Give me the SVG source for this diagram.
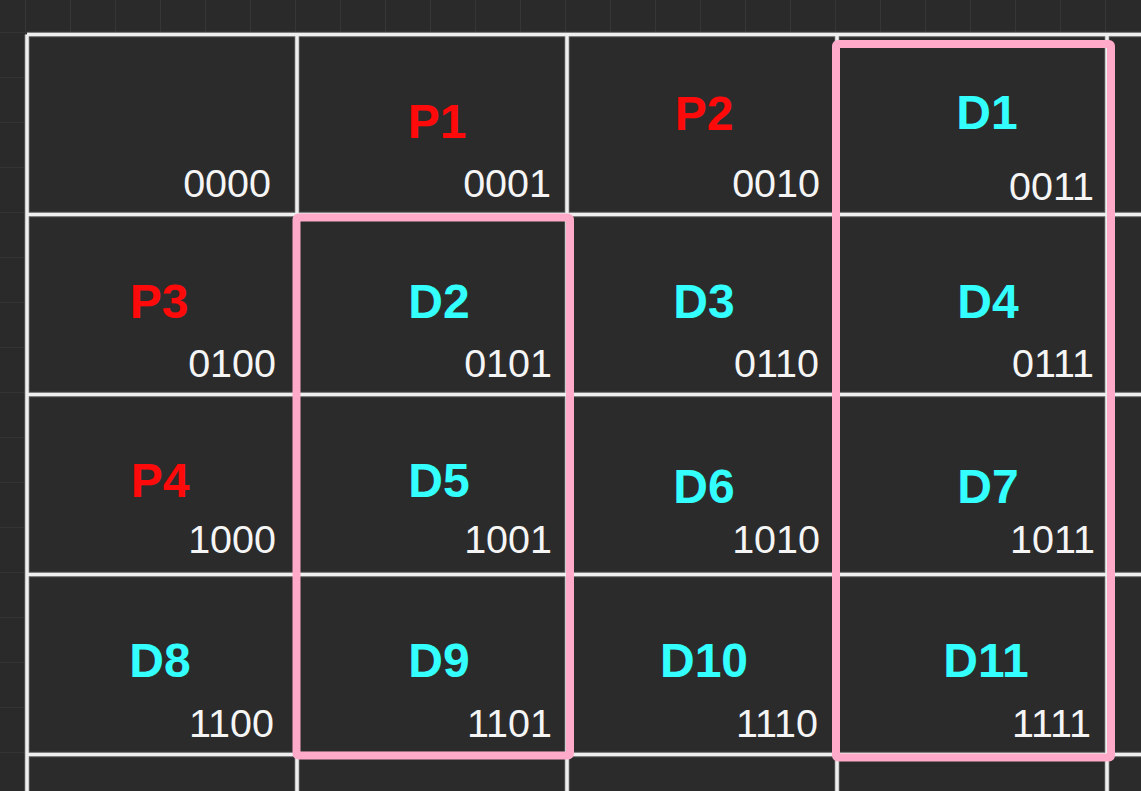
<svg xmlns="http://www.w3.org/2000/svg" width="1141" height="791" viewBox="0 0 1141 791">
<defs>
<pattern id="bg" x="25" y="32" width="45" height="45" patternUnits="userSpaceOnUse">
<path d="M0 0H45M0 0V45" fill="none" stroke="#3d3d3d" stroke-width="1.2"/>
</pattern>
<style>
.lbl{font-family:"Liberation Sans",Arial,sans-serif;font-weight:bold;font-size:48px;text-anchor:middle}
.p{fill:#ff0a0a}
.d{fill:#33ffff}
.num{font-family:"Liberation Sans",Arial,sans-serif;font-size:39.5px;fill:#f5f5f5;text-anchor:end}
.gl{stroke:#5a5a5a;stroke-width:5.5;fill:none}
.wl{stroke:#efefef;stroke-width:3.5;fill:none}
.grp{fill:none;stroke:#ffaac8;stroke-width:8;stroke-linejoin:round}
</style>
</defs>
<rect width="1141" height="791" fill="#2a2a2a"/>
<rect width="1141" height="791" fill="url(#bg)"/>
<rect x="27" y="34.5" width="1114" height="756.5" fill="#2b2b2b"/>
<g id="table-lines">
<path class="gl" d="M27 34.5V791M297 34.5V791M567 34.5V791M837 34.5V791M1107 34.5V791M27 34.5H1141M27 214.5H1141M27 394.5H1141M27 574.5H1141M27 754.5H1141"/>
<path class="wl" d="M27 34.5V791M297 34.5V791M567 34.5V791M837 34.5V791M1107 34.5V791M27 34.5H1141M27 214.5H1141M27 394.5H1141M27 574.5H1141M27 754.5H1141"/>
</g>
<g id="cell-0000"><text class="num" x="271" y="197">0000</text></g>
<g id="cell-0001"><text class="lbl p" x="437" y="138">P1</text><text class="num" x="551" y="197">0001</text></g>
<g id="cell-0010"><text class="lbl p" x="704" y="130">P2</text><text class="num" x="820" y="197">0010</text></g>
<g id="cell-0011"><text class="lbl d" x="987" y="129">D1</text><text class="num" x="1094" y="200">0011</text></g>
<g id="cell-0100"><text class="lbl p" x="159" y="318">P3</text><text class="num" x="276" y="377">0100</text></g>
<g id="cell-0101"><text class="lbl d" x="439" y="318">D2</text><text class="num" x="552" y="377">0101</text></g>
<g id="cell-0110"><text class="lbl d" x="704" y="318">D3</text><text class="num" x="819" y="377">0110</text></g>
<g id="cell-0111"><text class="lbl d" x="988" y="318">D4</text><text class="num" x="1094" y="377">0111</text></g>
<g id="cell-1000"><text class="lbl p" x="160" y="497">P4</text><text class="num" x="276" y="553">1000</text></g>
<g id="cell-1001"><text class="lbl d" x="439" y="497">D5</text><text class="num" x="552" y="553">1001</text></g>
<g id="cell-1010"><text class="lbl d" x="704" y="503">D6</text><text class="num" x="820" y="553">1010</text></g>
<g id="cell-1011"><text class="lbl d" x="988" y="503">D7</text><text class="num" x="1095" y="553">1011</text></g>
<g id="cell-1100"><text class="lbl d" x="160" y="677">D8</text><text class="num" x="274" y="737">1100</text></g>
<g id="cell-1101"><text class="lbl d" x="439" y="677">D9</text><text class="num" x="552" y="737">1101</text></g>
<g id="cell-1110"><text class="lbl d" x="704" y="677">D10</text><text class="num" x="818" y="737">1110</text></g>
<g id="cell-1111"><text class="lbl d" x="986" y="677">D11</text><text class="num" x="1091" y="737">1111</text></g>
<g id="group-col-01"><rect class="grp" x="296.5" y="217.5" width="273.5" height="538" rx="2"/></g>
<g id="group-col-11"><rect class="grp" x="836" y="44" width="275" height="713.5" rx="2"/></g>
</svg>
